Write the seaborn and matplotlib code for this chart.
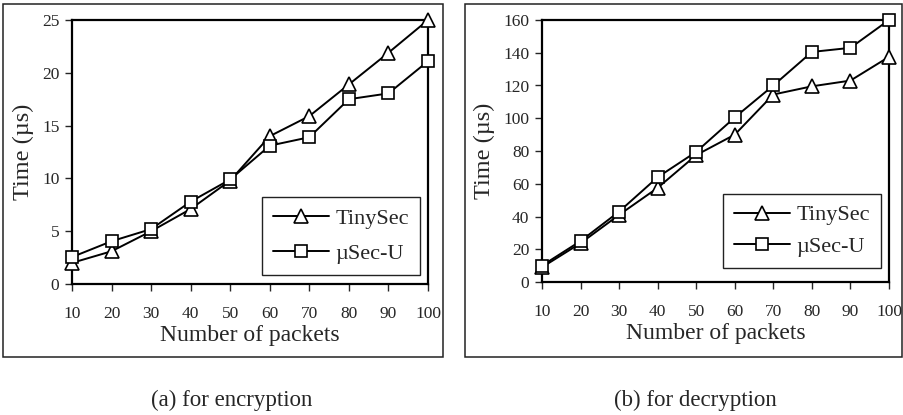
import pandas as pd
import seaborn as sns
import matplotlib.pyplot as plt
from matplotlib.patches import Rectangle

# values
packets = [10, 20, 30, 40, 50, 60, 70, 80, 90, 100]
enc_tinysec = [2.0, 3.1, 5.0, 7.1, 9.8, 14.0, 15.9, 18.9, 21.9, 25.0]
enc_usec = [2.55, 4.05, 5.2, 7.8, 9.9, 13.1, 13.9, 17.5, 18.05, 21.1]
dec_tinysec = [9.0, 23.7, 41.0, 57.5, 77.5, 90.0, 114.5, 119.5, 123.0, 137.5]
dec_usec = [10.0, 25.0, 43.0, 64.0, 79.5, 100.5, 120.0, 140.5, 143.0, 160.0]
series_names = ['TinySec', 'µSec-U']
enc_yticks = [0, 5, 10, 15, 20, 25]
dec_yticks = [0, 20, 40, 60, 80, 100, 120, 140, 160]
captions = ['(a) for encryption', '(b) for decryption']

sns.set_style('white')
plt.rcParams['font.family'] = ['Liberation Serif', 'DejaVu Serif']

fig = plt.figure(figsize=(9.04, 4.15), dpi=100)

# panel frames around each subplot
fig.add_artist(Rectangle((3 / 904, 1 - 357 / 415), 440 / 904, 353 / 415,
                         transform=fig.transFigure, fill=False, ec='#222222', lw=1.1))
fig.add_artist(Rectangle((465 / 904, 1 - 357 / 415), 437 / 904, 353 / 415,
                         transform=fig.transFigure, fill=False, ec='#222222', lw=1.1))

ax1 = fig.add_axes([72 / 904, 131 / 415, 356 / 904, 264 / 415])
ax2 = fig.add_axes([542 / 904, 133 / 415, 347 / 904, 262 / 415])

panels = [
    (ax1, enc_tinysec, enc_usec, enc_yticks, (0.978, 0.034), 0.65),
    (ax2, dec_tinysec, dec_usec, dec_yticks, (0.977, 0.053), 0.5),
]

for ax, tiny, usec, yticks, anchor, lsp in panels:
    df = pd.DataFrame({'packets': packets, 'TinySec': tiny, 'µSec-U': usec})
    for name, mk, ms in zip(series_names, ['^', 's'], [9.5, 8]):
        sns.lineplot(data=df, x='packets', y=name, ax=ax, color='black', lw=1.4,
                     marker=mk, markersize=ms, markerfacecolor='white',
                     markeredgecolor='black', markeredgewidth=1.2,
                     label=name, clip_on=False, zorder=3)
    ax.set_xlim(10, 100)
    ax.set_ylim(yticks[0], yticks[-1])
    ax.set_xticks(packets)
    ax.set_yticks(yticks)
    ax.tick_params(axis='both', direction='out', length=5, width=1,
                   labelsize=12.5, bottom=True, left=True, pad=4)
    ax.tick_params(axis='x', pad=11)
    for sp in ax.spines.values():
        sp.set_color('black')
        sp.set_linewidth(1.6)
    ax.set_xlabel('Number of packets', fontsize=17, labelpad=2)
    ax.set_ylabel('Time (µs)', fontsize=17.5, labelpad=6)
    leg = ax.legend(loc='lower right', bbox_to_anchor=anchor, fontsize=16,
                    fancybox=False, edgecolor='#222222', framealpha=1,
                    handlelength=2.5, borderpad=0.5, labelspacing=lsp,
                    handletextpad=0.3, borderaxespad=0)
    leg.get_frame().set_linewidth(1)

fig.text(232 / 904, 1 - 400 / 415, captions[0], ha='center', va='center', fontsize=16.5)
fig.text(695 / 904, 1 - 400 / 415, captions[1], ha='center', va='center', fontsize=16.5)

fig.savefig('out.png', dpi=100)
